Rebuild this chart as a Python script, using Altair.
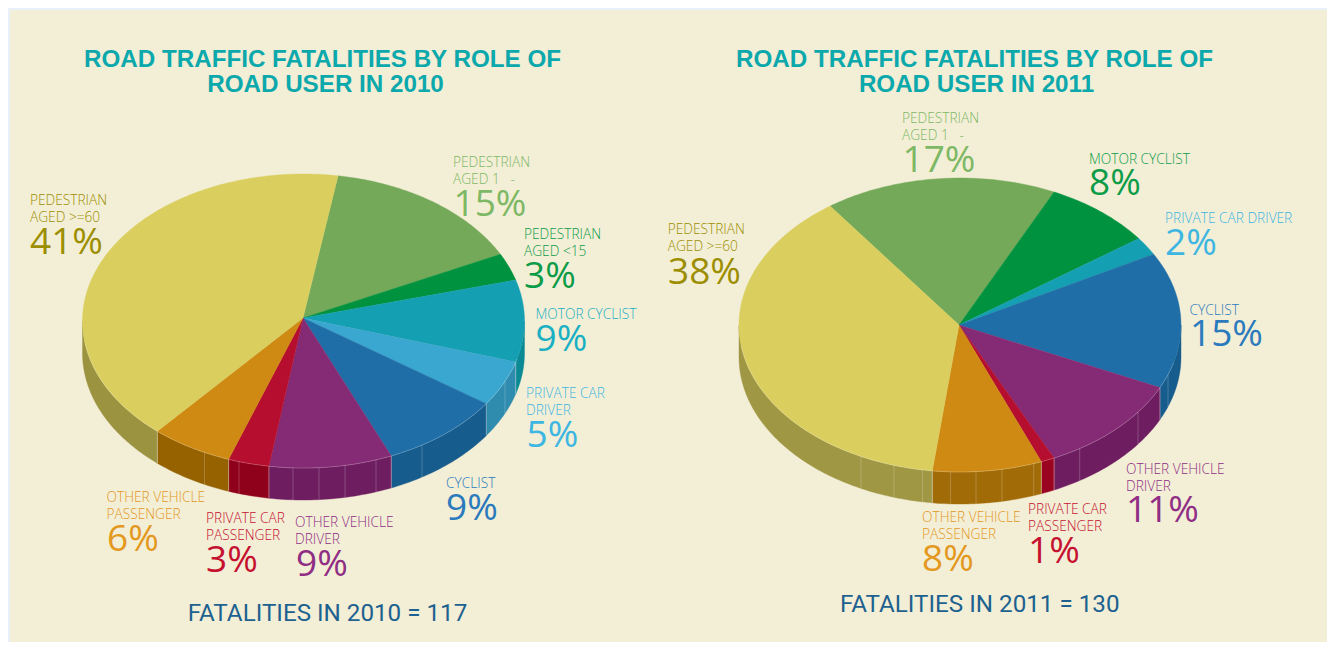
import numpy as np
import pandas as pd
import altair as alt

# ---- values -----------------------------------------------------------
names_2010 = ["PEDESTRIAN|AGED 1\u00a0\u00a0\u00a0-", "PEDESTRIAN|AGED <15", "MOTOR CYCLIST", "PRIVATE CAR|DRIVER",
              "CYCLIST", "OTHER VEHICLE|DRIVER", "PRIVATE CAR|PASSENGER",
              "OTHER VEHICLE|PASSENGER", "PEDESTRIAN|AGED >=60"]
values_2010 = [15, 3, 9, 5, 9, 9, 3, 6, 41]
names_2011 = ["PEDESTRIAN|AGED 1\u00a0\u00a0\u00a0-", "MOTOR CYCLIST", "PRIVATE CAR DRIVER", "CYCLIST",
              "OTHER VEHICLE|DRIVER", "PRIVATE CAR|PASSENGER",
              "OTHER VEHICLE|PASSENGER", "PEDESTRIAN|AGED >=60"]
values_2011 = [17, 8, 2, 15, 11, 1, 8, 38]
titles_2010 = ["ROAD TRAFFIC FATALITIES BY ROLE OF", "ROAD USER IN 2010"]
titles_2011 = ["ROAD TRAFFIC FATALITIES BY ROLE OF", "ROAD USER IN 2011"]
total_2010 = "FATALITIES IN 2010 = 117"
total_2011 = "FATALITIES IN 2011 = 130"

# ---- styles -----------------------------------------------------------
TOP_2010 = ["#73A958", "#00923F", "#14A0B2", "#39A7CF", "#1F6EA7", "#852A75", "#B60E2E", "#CF8A13", "#DACE5F"]
WALL_2010 = ["#5E8A48", "#007A35", "#0B8A95", "#2F8CAF", "#165C8C", "#6E1E60", "#8F001B", "#966200", "#9C9340"]
TEXT_2010 = ["#7DB865", "#0B9C48", "#1AB0C3", "#3DB6E2", "#2A7ABD", "#8F2E84", "#C5112F", "#E3981E", "#9C8E00"]
TOP_2011 = ["#73A958", "#00923F", "#14A0B2", "#1F6EA7", "#852A75", "#B60E2E", "#CF8A13", "#DACE5F"]
WALL_2011 = ["#5E8A48", "#007A35", "#0B8A95", "#165C8C", "#6E1E60", "#9B0420", "#A16B08", "#9F9743"]
TEXT_2011 = ["#7DB865", "#0B9C48", "#3DB6E2", "#2A7ABD", "#8F2E84", "#C5112F", "#E3981E", "#9C8E00"]

PAGE, CARD = "#E8F1F9", "#F3EED6"
TITLE_COLOR, TOTAL_COLOR = "#0BA8AC", "#1C618F"
TITLE_FONT, TOTAL_FONT, LABEL_FONT = "Liberation Sans", "Roboto", "Open Sans"
OFF = 8  # page margin: layout below is in page pixels

# ---- layout -----------------------------------------------------------
PIE_2010 = dict(ax=303, ay=318, cx=303.5, cy=321, rx=221, ry=147, depth=32, start=9)
PIE_2011 = dict(ax=959, ay=325, cx=960, cy=325, rx=221, ry=147, depth=32, start=324)
SEAMS_2010 = [204.5, 239, 293, 319, 345, 376, 422, 505]
SEAMS_2011 = [861, 894, 922.6, 950.6, 976, 1002, 1033.7, 1079.7, 1138, 1168]
# x, baseline of first line, baseline of percent, x of percent
LABELS_2010 = [(453, 167, 216, 453.5), (524, 239, 288, 524), (535.5, 319, 351, 535.5), (526, 398, 447, 526.5),
               (446, 488, 520, 446), (295, 527, 576, 296), (206, 523, 572, 206), (106.5, 502, 551, 107), (30, 205, 254, 30)]
LABELS_2011 = [(902, 123, 172, 902.5), (1089, 164, 195, 1089), (1165, 223, 255, 1165), (1189.5, 315, 346, 1190),
               (1126, 474, 522, 1126), (1028, 514, 563, 1028), (922, 522, 571, 922), (667.7, 234, 284, 668)]


def point(p, deg, dy=0.0):
    t = np.radians(deg)
    return [float(p["cx"] + p["rx"] * np.sin(t)), float(p["cy"] - p["ry"] * np.cos(t) + dy)]


def arc(p, a, b, dy=0.0):
    n = max(2, int(abs(b - a)) + 2)
    return [point(p, d, dy) for d in np.linspace(a, b, n)]


def poly(coords, color):
    ring = coords + [coords[0]]
    return {"type": "Feature", "properties": {"color": color},
            "geometry": {"type": "Polygon", "coordinates": [ring]}}


def line(coords):
    return {"type": "Feature", "properties": {},
            "geometry": {"type": "LineString", "coordinates": coords}}


def pie_features(p, values, tops, walls, seams):
    walls_out, tops_out, seams_out = [], [], []
    a = p["start"]
    for v, top, wall in zip(values, tops, walls):
        b = a + v * 3.6
        tops_out.append(poly([[p["ax"], p["ay"]]] + arc(p, a, b), top))
        for k in (0, 360):
            lo, hi = max(a - k, 90), min(b - k, 270)
            if hi > lo:
                walls_out.append(poly(arc(p, lo, hi) + arc(p, hi, lo, p["depth"]), wall))
                for edge in (lo, hi):
                    if 90 < edge < 270:
                        seams_out.append(line([point(p, edge), point(p, edge, p["depth"])]))
        a = b
    for x in seams:
        deg = 180 - np.degrees(np.arcsin((x - p["cx"]) / p["rx"]))
        seams_out.append(line([point(p, deg), point(p, deg, p["depth"])]))
    seams_out.append(line(arc(p, 105, 262)))
    return walls_out + tops_out, seams_out


fills, strokes = [], []
for args in ((PIE_2010, values_2010, TOP_2010, WALL_2010, SEAMS_2010),
             (PIE_2011, values_2011, TOP_2011, WALL_2011, SEAMS_2011)):
    f, s = pie_features(*args)
    fills += f
    strokes += s

proj = dict(type="identity", scale=1, translate=[-OFF, -OFF])

layers = [
    alt.Chart(pd.DataFrame({"a": [0]})).mark_rect(color=CARD).encode(
        x=alt.value(10 - OFF), x2=alt.value(1319), y=alt.value(10 - OFF), y2=alt.value(634)),
    alt.Chart(alt.Data(values=fills)).mark_geoshape(strokeWidth=0.4).encode(
        fill=alt.Color("properties.color:N", scale=None),
        stroke=alt.Color("properties.color:N", scale=None)).project(**proj),
    alt.Chart(alt.Data(values=strokes)).mark_geoshape(filled=False, stroke="#FFFFFF", strokeOpacity=0.3,
                                                      strokeWidth=0.7).project(**proj),
]


def text(s, x, y, size, color, font, align="left", weight="normal"):
    return alt.Chart(pd.DataFrame({"t": [s]})).mark_text(
        font=font, fontSize=size, color=color, align=align, baseline="alphabetic", fontWeight=weight
    ).encode(text="t:N", x=alt.value(x - OFF), y=alt.value(y - OFF))


for names, values, colors, places in ((names_2010, values_2010, TEXT_2010, LABELS_2010),
                                      (names_2011, values_2011, TEXT_2011, LABELS_2011)):
    for name, v, col, (x, y, py, px) in zip(names, values, colors, places):
        for i, part in enumerate(name.split("|")):
            layers.append(text(part, x, y + i * 17.3, 13.7, col, LABEL_FONT, weight=300))
        layers.append(text(f"{v}%", px, py, 37, col, LABEL_FONT))

for lines, centers in ((titles_2010, (322.5, 325.5)), (titles_2011, (974.5, 976.5))):
    for s, c, y in zip(lines, centers, (67, 92)):
        layers.append(text(s, c, y, 24.2, TITLE_COLOR, TITLE_FONT, "center", "bold"))

layers.append(text(total_2010, 327.5, 621, 24.2, TOTAL_COLOR, TOTAL_FONT, "center"))
layers.append(text(total_2011, 979.7, 612, 24.2, TOTAL_COLOR, TOTAL_FONT, "center"))

chart = alt.layer(*layers).properties(
    width=1319, height=634, background=PAGE, padding=0,
    autosize=alt.AutoSizeParams(type="none"),
).configure_view(stroke=None)

chart.save("out.html", embed_options={"renderer": "svg", "actions": False})
